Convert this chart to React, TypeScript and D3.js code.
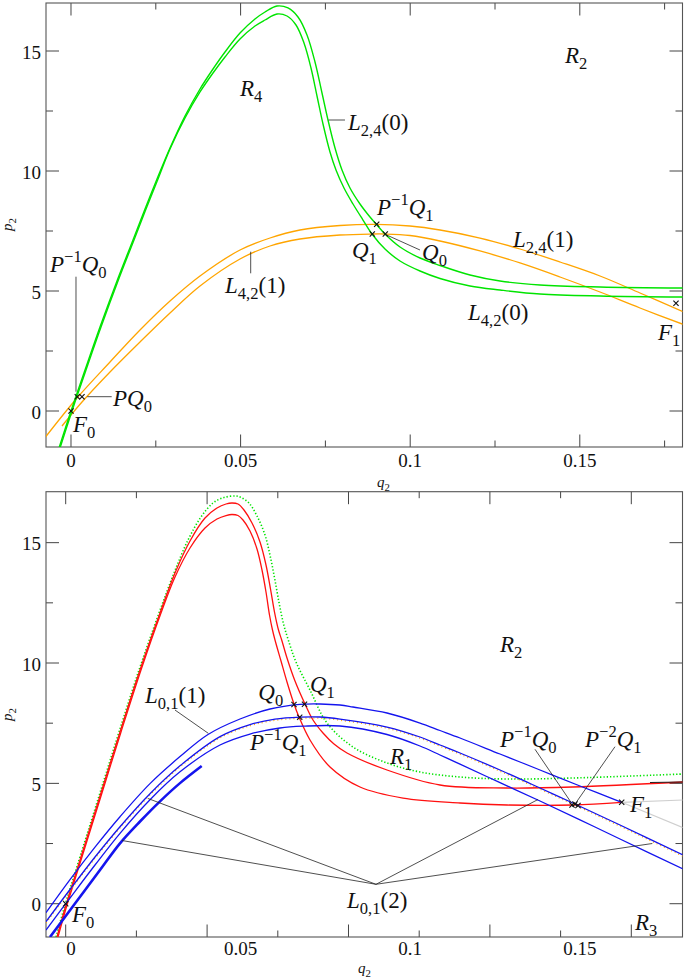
import React from "react";
import * as d3 from "d3";

type Pt = [number, number];

// ---------------- tick data ----------------
const topXTickValues = [0, 0.025, 0.05, 0.075, 0.1, 0.125, 0.15, 0.175];
const botXTickValues = [0, 0.025, 0.05, 0.075, 0.1, 0.125, 0.15, 0.175, 0.2];
const yTickValues = [0, 2.5, 5, 7.5, 10, 12.5, 15];
const yTickLabelValues = [0, 5, 10, 15];
const xTickLabelValues = [0, 0.05, 0.1, 0.15];
const xTickLabelTexts = ["0", "0.05", "0.1", "0.15"];

// ---------------- top panel curves ----------------
const topGreenOuter: Pt[] = [
  [-0.0039, -1.7], [0, 0], [0.004127, 1.708], [0.00855, 3.5], [0.013561, 5.417], [0.018278, 7.125],
  [0.021816, 8.417], [0.025354, 9.667], [0.029186, 10.958], [0.033608, 12.292], [0.038031, 13.417],
  [0.041863, 14.25], [0.045401, 14.958], [0.049823, 15.75], [0.054245, 16.333], [0.057193, 16.625],
  [0.060731, 16.875], [0.063974, 16.792], [0.066922, 16.417], [0.069575, 15.667], [0.071934, 14.542],
  [0.073998, 13.25], [0.075767, 12.125], [0.07783, 10.958], [0.079894, 10.042], [0.082252, 9.292],
  [0.0852, 8.625], [0.088149, 8.083], [0.090212, 7.75], [0.092571, 7.375], [0.096993, 6.833],
  [0.102889, 6.375], [0.108785, 6.063], [0.11763, 5.667], [0.126474, 5.417], [0.138267, 5.25],
  [0.155955, 5.167], [0.180425, 5.125],
];
const topGreenInner: Pt[] = [
  [-0.0036, -1.7], [0.000295, 0], [0.004422, 1.708], [0.008844, 3.5], [0.013856, 5.417], [0.018573, 7.125],
  [0.022111, 8.417], [0.025649, 9.667], [0.029186, 10.917], [0.033608, 12.208], [0.038031, 13.292],
  [0.041863, 14.083], [0.045401, 14.75], [0.049823, 15.5], [0.054245, 16.042], [0.057193, 16.292],
  [0.060731, 16.542], [0.063679, 16.458], [0.066333, 16.083], [0.068691, 15.333], [0.070755, 14.292],
  [0.072524, 13.125], [0.074292, 11.958], [0.076356, 10.792], [0.078125, 10.042], [0.080483, 9.292],
  [0.083137, 8.625], [0.086085, 7.958], [0.088738, 7.375], [0.092571, 6.75], [0.096993, 6.25],
  [0.102889, 5.833], [0.108785, 5.521], [0.11763, 5.208], [0.126474, 5.042], [0.138267, 4.875],
  [0.155955, 4.792], [0.180425, 4.75],
];
const topOrangeUpper: Pt[] = [
  [-0.0076, -1.1], [0.001769, 0.542], [0.011498, 2.042], [0.020342, 3.375], [0.029186, 4.583],
  [0.038031, 5.625], [0.049823, 6.708], [0.058667, 7.208], [0.067512, 7.542], [0.079304, 7.729],
  [0.089917, 7.779], [0.099941, 7.708], [0.108785, 7.542], [0.120578, 7.208], [0.13237, 6.75],
  [0.144163, 6.208], [0.155955, 5.625], [0.167748, 4.917], [0.180425, 4.1375],
];
const topOrangeLower: Pt[] = [
  [-0.002653, -0.625], [0.003243, 0.375], [0.011498, 1.625], [0.020342, 2.875], [0.029186, 4.083],
  [0.038031, 5.208], [0.049823, 6.333], [0.058667, 6.875], [0.067512, 7.167], [0.079304, 7.333],
  [0.088738, 7.375], [0.092571, 7.375], [0.099941, 7.3125], [0.108785, 7.083], [0.120578, 6.667],
  [0.13237, 6.167], [0.144163, 5.583], [0.155955, 4.958], [0.167748, 4.292], [0.180425, 3.6125],
];
const topMarkers: Pt[] = [
  [0, 0], [0.001857, 0.596], [0.003243, 0.596], [0.090123, 7.779], [0.088827, 7.375],
  [0.092659, 7.375], [0.178361, 4.4875],
];
const topPointers: Pt[][] = [
  [[0.075914, 12.125], [0.080778, 12.125]],
  [[0.093071, 7.333], [0.102889, 6.708]],
  [[0.052978, 6.6375], [0.052978, 5.7375]],
  [[0.001474, 5.596], [0.001474, 0.804]],
  [[0.004805, 0.596], [0.011999, 0.596]],
];
const topLabelPos: Pt[] = [
  [0.049823, 13.125], [0.145637, 14.5], [0.081663, 11.708], [0.090212, 8.167], [0.082842, 6.375],
  [0.103479, 6.292], [0.130307, 6.833], [0.045401, 4.917], [0.11704, 3.792], [0.173054, 2.958],
  [-0.006191, 5.792], [0.012382, 0.208], [0.00059, -0.875],
];
const topLabelTexts = [
  "R_4", "R_2", "L_{2,4}(0)", "P^{-1}Q_1", "Q_1", "Q_0", "L_{2,4}(1)", "L_{4,2}(1)", "L_{4,2}(0)",
  "F_1", "P^{-1}Q_0", "PQ_0", "F_0",
];

// ---------------- bottom panel curves ----------------
const botGreenDotted: Pt[] = [
  [-0.00343, -1.383], [-0.000248, -0.054], [0.002935, 1.151], [0.008239, 3.145], [0.013543, 5.14],
  [0.018847, 7.133], [0.025919, 9.709], [0.032991, 12.077], [0.038295, 13.739], [0.043246, 15.11],
  [0.047843, 16.066], [0.052086, 16.647], [0.055976, 16.876], [0.060219, 16.938], [0.061987, 16.876],
  [0.064816, 16.647], [0.067645, 16.107], [0.070474, 15.318], [0.072454, 14.362], [0.074116, 13.365],
  [0.075601, 12.41], [0.077122, 11.579], [0.078713, 10.956], [0.081436, 10.042], [0.086386, 8.878],
  [0.092397, 7.507], [0.101591, 6.51], [0.113614, 5.846], [0.125283, 5.472], [0.139427, 5.264],
  [0.156047, 5.181], [0.179385, 5.223], [0.218282, 5.389],
];
const botRedOuter: Pt[] = [
  [-0.003076, -1.383], [0.000106, -0.054], [0.003289, 1.151], [0.008593, 3.145], [0.013897, 5.14],
  [0.019201, 7.133], [0.026273, 9.709], [0.033345, 12.077], [0.038649, 13.739], [0.043953, 15.069],
  [0.049257, 16.024], [0.053501, 16.44], [0.056683, 16.606], [0.058805, 16.647], [0.060926, 16.606],
  [0.063048, 16.356], [0.065877, 15.816], [0.068706, 15.027], [0.070827, 14.072], [0.072419, 13.075],
  [0.073833, 12.119], [0.075248, 11.371], [0.076379, 10.956], [0.078253, 10.208], [0.081082, 9.252],
  [0.084618, 8.297], [0.087447, 7.632], [0.090983, 7.092], [0.094873, 6.635], [0.09947, 6.261],
  [0.113614, 5.555], [0.132355, 4.932], [0.156047, 4.807], [0.179385, 4.849], [0.218282, 5.056],
];
const botRedInner: Pt[] = [
  [-0.002723, -1.383], [0.00046, -0.054], [0.003642, 1.151], [0.008946, 3.145], [0.01425, 5.14],
  [0.019554, 7.133], [0.026627, 9.709], [0.033699, 12.077], [0.038649, 13.573], [0.043953, 14.778],
  [0.049257, 15.609], [0.053501, 15.983], [0.056683, 16.128], [0.058805, 16.17], [0.060926, 16.128],
  [0.062694, 15.941], [0.06517, 15.484], [0.067645, 14.736], [0.069413, 13.864], [0.070827, 12.95],
  [0.072065, 11.994], [0.073126, 11.371], [0.07401, 10.956], [0.076132, 10.083], [0.078253, 9.211],
  [0.080728, 8.297], [0.082496, 7.757], [0.086386, 6.801], [0.093458, 5.68], [0.104066, 4.849],
  [0.119271, 4.391], [0.139427, 4.184], [0.156047, 4.101], [0.179385, 4.101], [0.196605, 4.213],
];
const botBlackTail: Pt[] = [[0.206612, 5.035], [0.218282, 5.056]];
const botBlue1: Pt[] = [
  [-0.006966, -0.374], [0.00152, 1.001], [0.010361, 2.351], [0.019201, 3.614], [0.029809, 4.99],
  [0.040417, 6.111], [0.050318, 7.03], [0.061634, 7.673], [0.072242, 8.089], [0.08285, 8.28],
  [0.089922, 8.297], [0.096994, 8.255], [0.101591, 8.172], [0.113614, 7.923], [0.125283, 7.507],
  [0.132355, 7.196], [0.139427, 6.884], [0.153571, 6.219], [0.167716, 5.555], [0.18186, 4.89],
  [0.196605, 4.213],
];
const botBlue2: Pt[] = [
  [-0.006966, -0.748], [0.00152, 0.59], [0.010361, 1.94], [0.019201, 3.199], [0.029809, 4.57],
  [0.040417, 5.729], [0.054562, 6.942], [0.06517, 7.441], [0.07401, 7.669], [0.08285, 7.752],
  [0.089922, 7.757], [0.096994, 7.673], [0.113614, 7.341], [0.125283, 6.926], [0.132355, 6.593],
  [0.139427, 6.261], [0.153571, 5.555], [0.167716, 4.807], [0.180092, 4.142], [0.196004, 3.27],
  [0.218282, 2.023],
];
const botBlue3: Pt[] = [
  [-0.006966, -1.093], [0.00152, 0.237], [0.010361, 1.608], [0.019201, 2.925], [0.029809, 4.321],
  [0.040417, 5.48], [0.054562, 6.593], [0.06517, 7.05], [0.075778, 7.3], [0.083911, 7.374],
  [0.096994, 7.383], [0.113614, 7.03], [0.125283, 6.552], [0.132355, 6.178], [0.139427, 5.796],
  [0.153571, 5.031], [0.167716, 4.267], [0.18186, 3.486], [0.196004, 2.688], [0.218282, 1.442],
];
const botBlue4: Pt[] = [
  [-0.005552, -1.383], [0.003289, 0.008], [0.012129, 1.4], [0.019201, 2.509], [0.026273, 3.415],
  [0.033345, 4.254], [0.040417, 5.01], [0.048091, 5.721],
];
const botGrayA: Pt[] = [[0.196605, 4.213], [0.218282, 4.308]];
const botGrayB: Pt[] = [[0.196605, 4.213], [0.218282, 3.157]];
const botMarkers: Pt[] = [
  [0, 0], [0.080728, 8.276], [0.084441, 8.284], [0.082744, 7.744], [0.179031, 4.101],
  [0.180092, 4.142], [0.181153, 4.08], [0.196605, 4.213],
];
const botPointers: Pt[][] = [
  [[0.038649, 8.047], [0.050424, 7.079]],
  [[0.109724, 0.806], [0.019908, 2.626]],
  [[0.109724, 0.806], [0.029102, 4.371]],
  [[0.109724, 0.806], [0.167008, 4.329]],
  [[0.109724, 0.806], [0.207426, 2.501]],
  [[0.165948, 6.415], [0.178925, 4.171]],
  [[0.194236, 6.523], [0.180693, 4.238]],
];
const botLabelPos: Pt[] = [
  [0.153571, 10.457], [0.028041, 8.351], [0.068105, 8.463], [0.086386, 8.795], [0.06517, 6.386],
  [0.114675, 5.804], [0.153571, 6.523], [0.183628, 6.523], [0.19954, 3.81], [0.002228, -0.76],
  [0.09947, -0.179], [0.201308, -1.093],
];
const botLabelTexts = [
  "R_2", "L_{0,1}(1)", "Q_0", "Q_1", "P^{-1}Q_1", "R_1", "P^{-1}Q_0", "P^{-2}Q_1", "F_1", "F_0",
  "L_{0,1}(2)", "R_3",
];

// ---------------- colours ----------------
const GREEN = "#00e400";
const ORANGE = "#ffa500";
const RED = "#ff1010";
const BLUE = "#1414ee";
const FONT = "'Liberation Serif', 'Times New Roman', serif";

type Run = { text: string; italic: boolean; level: number };
function parseMath(s: string): Run[] {
  const runs: Run[] = [];
  const push = (ch: string, level: number) => {
    const italic = /[A-Za-z]/.test(ch);
    const last = runs[runs.length - 1];
    if (last && last.italic === italic && last.level === level) last.text += ch;
    else runs.push({ text: ch, italic, level });
  };
  let i = 0;
  while (i < s.length) {
    const c = s[i];
    if (c === "_" || c === "^") {
      const level = c === "_" ? -1 : 1;
      i++;
      let grp = "";
      if (s[i] === "{") {
        const j = s.indexOf("}", i);
        grp = s.slice(i + 1, j);
        i = j + 1;
      } else {
        grp = s[i];
        i++;
      }
      for (const ch of grp) push(ch === "-" ? "\u2212" : ch, level);
    } else {
      push(c, 0);
      i++;
    }
  }
  return runs;
}

function MathText({ x, y, s, fs = 23, anchor = "start", transform }: { x: number; y: number; s: string; fs?: number; anchor?: string; transform?: string }) {
  const runs = parseMath(s);
  let cur = 0;
  return (
    <text x={x} y={y} fontFamily={FONT} fontSize={fs} textAnchor={anchor} transform={transform} fill="#111">
      {runs.map((r, k) => {
        const shift = r.level === -1 ? fs * 0.28 : r.level === 1 ? -fs * 0.42 : 0;
        const dy = shift - cur;
        cur = shift;
        return (
          <tspan key={k} dy={dy} fontSize={r.level ? fs * 0.72 : fs} fontStyle={r.italic ? "italic" : "normal"}>
            {r.text}
          </tspan>
        );
      })}
    </text>
  );
}

type Frame = { left: number; right: number; top: number; bottom: number };

function Axes({ id, frame, x, y, xTicks, labelX, labelBaseline, qPos, pPos }: any) {
  const f: Frame = frame;
  const near = (v: number, m: number) => Math.abs(v / m - Math.round(v / m)) < 1e-6;
  return (
    <g>
      {xTicks.map((v: number, i: number) => {
        const len = near(v, 0.05) ? 12.5 : 6.5;
        const px = x(v);
        return (
          <g key={"x" + i} stroke="#444" strokeWidth={1}>
            <line x1={px} x2={px} y1={f.bottom} y2={f.bottom - len} />
            <line x1={px} x2={px} y1={f.top} y2={f.top + len} />
          </g>
        );
      })}
      {yTickValues.map((v, i) => {
        const len = near(v, 5) ? 13 : 7;
        const py = y(v);
        return (
          <g key={"y" + i} stroke="#444" strokeWidth={1}>
            <line x1={f.left} x2={f.left + len} y1={py} y2={py} />
            <line x1={f.right} x2={f.right - len} y1={py} y2={py} />
          </g>
        );
      })}
      {yTickLabelValues.map((v, i) => (
        <text key={"yl" + i} x={41} y={y(v) + 7.5} textAnchor="end" fontFamily={FONT} fontSize={19} fill="#111">
          {String(v)}
        </text>
      ))}
      {xTickLabelValues.map((v, i) => (
        <text key={"xl" + i} x={labelX(v)} y={labelBaseline} textAnchor="middle" fontFamily={FONT} fontSize={19} fill="#111">
          {xTickLabelTexts[i]}
        </text>
      ))}
      <rect x={f.left} y={f.top} width={f.right - f.left} height={f.bottom - f.top} fill="none" stroke="#555" strokeWidth={1.1} />
      <MathText x={qPos[0]} y={qPos[1]} s="q_2" fs={15} />
      <MathText x={0} y={0} s="p_2" fs={15} transform={`translate(${pPos[0]},${pPos[1]}) rotate(-90)`} />
      <clipPath id={id}>
        <rect x={f.left} y={f.top} width={f.right - f.left} height={f.bottom - f.top} />
      </clipPath>
    </g>
  );
}

function Cross({ cx, cy }: { cx: number; cy: number }) {
  const s = 2.6;
  return (
    <g stroke="#111" strokeWidth={1.1}>
      <line x1={cx - s} y1={cy - s} x2={cx + s} y2={cy + s} />
      <line x1={cx - s} y1={cy + s} x2={cx + s} y2={cy - s} />
    </g>
  );
}

export default function App() {
  const topFrame: Frame = { left: 46, right: 682.5, top: 3, bottom: 447 };
  const botFrame: Frame = { left: 46, right: 682.5, top: 491.7, bottom: 937 };
  const xTop = d3.scaleLinear().domain([-0.00737, 0.180277]).range([topFrame.left, topFrame.right]);
  const yTop = d3.scaleLinear().domain([-1.5, 17]).range([topFrame.bottom, topFrame.top]);
  const xBot = d3.scaleLinear().domain([-0.006966, 0.218105]).range([botFrame.left, botFrame.right]);
  const yBot = d3.scaleLinear().domain([-1.383, 17.117]).range([botFrame.bottom, botFrame.top]);

  const mk = (x: any, y: any) =>
    d3.line<Pt>().x((d) => x(d[0])).y((d) => y(d[1])).curve(d3.curveCatmullRom.alpha(0.5));
  const lt = mk(xTop, yTop);
  const lb = mk(xBot, yBot);
  const straightB = d3.line<Pt>().x((d) => xBot(d[0])).y((d) => yBot(d[1]));
  const straightT = d3.line<Pt>().x((d) => xTop(d[0])).y((d) => yTop(d[1]));

  return (
    <div style={{ position: "absolute", left: 0, top: 0 }}>
      <svg width={685} height={980} viewBox="0 0 685 980" style={{ display: "block", background: "#fff" }}>
        {/* TOP PANEL */}
        <Axes id="clipTop" frame={topFrame} x={xTop} y={yTop} xTicks={topXTickValues} labelX={xTop} labelBaseline={466.5} qPos={[377, 487]} pPos={[12, 231]} />
        <g clipPath="url(#clipTop)" fill="none">
          <path d={lt(topOrangeUpper) || ""} stroke={ORANGE} strokeWidth={1.3} />
          <path d={lt(topOrangeLower) || ""} stroke={ORANGE} strokeWidth={1.3} />
          <path d={lt(topGreenOuter) || ""} stroke={GREEN} strokeWidth={1.4} />
          <path d={lt(topGreenInner) || ""} stroke={GREEN} strokeWidth={1.4} />
        </g>
        <g fill="none" stroke="#222" strokeWidth={0.8}>
          {topPointers.map((p, i) => (
            <path key={i} d={straightT(p) || ""} />
          ))}
        </g>
        {topMarkers.map((m, i) => (
          <Cross key={i} cx={xTop(m[0])} cy={yTop(m[1])} />
        ))}
        {topLabelPos.map((p, i) => (
          <MathText key={i} x={xTop(p[0])} y={yTop(p[1])} s={topLabelTexts[i]} />
        ))}

        {/* BOTTOM PANEL */}
        <Axes id="clipBot" frame={botFrame} x={xBot} y={yBot} xTicks={botXTickValues} labelX={xTop} labelBaseline={955} qPos={[358, 973]} pPos={[12, 721]} />
        <g clipPath="url(#clipBot)" fill="none">
          <path d={straightB(botGrayA) || ""} stroke="#cfcfcf" strokeWidth={1.2} />
          <path d={straightB(botGrayB) || ""} stroke="#cfcfcf" strokeWidth={1.2} />
          <path d={lb(botGreenDotted) || ""} stroke={GREEN} strokeWidth={1.6} strokeDasharray="1.3 2" />
          <path d={lb(botRedOuter) || ""} stroke={RED} strokeWidth={1.3} />
          <path d={lb(botRedInner) || ""} stroke={RED} strokeWidth={1.3} />
          <path d={straightB(botBlackTail) || ""} stroke="#222" strokeWidth={1.2} />
          <path d={lb(botBlue2) || ""} stroke={ORANGE} strokeWidth={1.3} strokeDasharray="1 3" transform="translate(0,1.2)" />
          <path d={lb(botBlue1) || ""} stroke={BLUE} strokeWidth={1.3} />
          <path d={lb(botBlue2) || ""} stroke={BLUE} strokeWidth={1.3} />
          <path d={lb(botBlue3) || ""} stroke={BLUE} strokeWidth={1.3} />
          <path d={lb(botBlue4) || ""} stroke={BLUE} strokeWidth={2.6} />
        </g>
        <g fill="none" stroke="#222" strokeWidth={0.8}>
          {botPointers.map((p, i) => (
            <path key={i} d={straightB(p) || ""} />
          ))}
        </g>
        {botMarkers.map((m, i) => (
          <Cross key={i} cx={xBot(m[0])} cy={yBot(m[1])} />
        ))}
        {botLabelPos.map((p, i) => (
          <MathText key={i} x={xBot(p[0])} y={yBot(p[1])} s={botLabelTexts[i]} />
        ))}
      </svg>
    </div>
  );
}
